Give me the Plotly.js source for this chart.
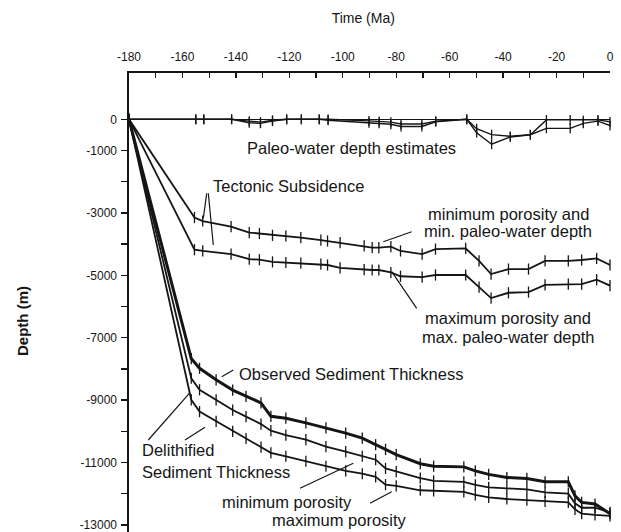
<!DOCTYPE html>
<html>
<head>
<meta charset="utf-8">
<script src="https://cdn.plot.ly/plotly-3.0.1.min.js"></script>
<style>
html,body{margin:0;padding:0;background:#fff;overflow:hidden;}
#chart{width:621px;height:532px;}
</style>
</head>
<body>
<div id="chart"></div>
<script>
// ---- Data (Time in Ma, Depth in m) ----
// Sediment thickness curves
const ageSed = [-180, -156.7, -153.6, -147.4, -141.2, -136.2, -130.6, -126.9, -121.3, -113.8, -106.3, -98.9, -92.7, -87.7, -84, -80, -71, -66, -54.7, -50.4, -45.4, -38.6, -31.1, -24.3, -15.6, -13.1, -10.6, -5.6, 0];
const observedSed = [0, -7670, -7980, -8350, -8680, -8880, -9090, -9520, -9580, -9730, -9890, -10060, -10220, -10430, -10580, -10750, -11040, -11120, -11140, -11270, -11380, -11480, -11510, -11620, -11620, -12070, -12280, -12330, -12640];
const delithMinPor = [0, -8300, -8670, -8990, -9320, -9530, -9770, -9980, -10120, -10270, -10490, -10650, -10800, -10910, -11190, -11290, -11500, -11590, -11620, -11720, -11800, -11830, -11860, -11960, -12000, -12310, -12450, -12450, -12600];
const delithMaxPor = [0, -8990, -9370, -9680, -10000, -10230, -10510, -10690, -10800, -10960, -11120, -11270, -11360, -11460, -11710, -11750, -11890, -11910, -11940, -12040, -12120, -12170, -12210, -12250, -12280, -12500, -12640, -12680, -12710];

// Tectonic subsidence curves
const ageTec = [-180, -155.5, -152.4, -141.8, -135, -131.2, -126.3, -121.3, -115.7, -108.2, -105.7, -101, -92, -89, -86.5, -82, -78.4, -70.3, -65.3, -54, -49, -44.5, -38, -30.5, -24.3, -15.6, -10.6, -5, 0];
const tecMinPor = [0, -3150, -3260, -3440, -3630, -3660, -3720, -3740, -3790, -3870, -3900, -3950, -4060, -4110, -4110, -4080, -4220, -4320, -4160, -4140, -4540, -4960, -4800, -4800, -4540, -4540, -4510, -4460, -4670];
const tecMaxPor = [0, -4180, -4220, -4320, -4480, -4500, -4570, -4590, -4610, -4640, -4670, -4760, -4820, -4830, -4830, -4910, -5030, -5060, -4990, -4990, -5380, -5730, -5560, -5540, -5310, -5280, -5280, -5140, -5330];

// Paleo-water depth estimates
const agePW = [-180, -155, -152, -141.6, -135, -130.8, -126.3, -121, -115.5, -108.8, -105.5, -90.2, -86.4, -82, -78.2, -70.4, -65.2, -53.6, -49.9, -44.3, -37.3, -29.8, -23.8, -14.9, -10, -4.5, 0];
const pwMin = [0, 0, 0, 0, -60, -90, -30, 0, 0, 0, 0, -50, -70, -90, -150, -150, -60, 0, -300, -490, -545, -495, -20, -20, -40, -20, -80];
const pwMax = [0, 0, 0, 0, -110, -130, -60, 0, 0, 0, -30, -110, -130, -160, -230, -230, -80, 0, -430, -800, -565, -495, -290, -290, -130, -60, -200];

// Axis ticks
const xTickVals = [-180, -170, -160, -150, -140, -130, -120, -110, -100, -90, -80, -70, -60, -50, -40, -30, -20, -10, 0];
const xTickText = ['-180', '', '-160', '', '-140', '', '-120', '', '-100', '', '-80', '', '-60', '', '-40', '', '-20', '', '0'];
const yTickVals = [0, -1000, -2000, -3000, -4000, -5000, -6000, -7000, -8000, -9000, -10000, -11000, -12000, -13000];
const yTickText = ['0', '-1000', '', '-3000', '', '-5000', '', '-7000', '', '-9000', '', '-11000', '', '-13000'];

// ---- Layout geometry (pixels) ----
const W = 621, H = 532;
const PL = 129, PR = 610, PT = 73, PB = 532;
const ZERO_PX = 119.3, PX_PER_M = 0.0312;
const yRange = [-(PB - ZERO_PX) / PX_PER_M, (ZERO_PX - PT) / PX_PER_M];
// helpers to place labels / leader lines at picture positions
const tx = px => -180 + (px - PL) / (PR - PL) * 180;
const dy = py => -(py - ZERO_PX) / PX_PER_M;

// ---- Plot ----
const INK = '#151515';
function curve(x, y, w, msize) {
  return {
    x: x, y: y, type: 'scatter', mode: 'lines+markers', cliponaxis: false,
    line: {color: INK, width: w},
    marker: {symbol: 'line-ns-open', size: msize, color: INK, line: {color: INK, width: 1.3}},
    hoverinfo: 'skip'
  };
}
const traces = [
  curve(agePW, pwMin, 1.4, 7),
  curve(agePW, pwMax, 1.4, 7),
  curve(ageTec, tecMinPor, 1.8, 8),
  curve(ageTec, tecMaxPor, 1.8, 8),
  curve(ageSed, delithMinPor, 1.8, 8),
  curve(ageSed, delithMaxPor, 1.8, 8),
  curve(ageSed, observedSed, 3, 8)
];

const AF = {size: 16.5, color: INK, family: 'Liberation Sans, Arial, sans-serif'};
function label(text, px, py, anchor) {
  return {text: text, x: tx(px), y: dy(py), xref: 'x', yref: 'y', showarrow: false,
          xanchor: anchor || 'left', yanchor: 'middle', font: AF};
}
const annotations = [
  label('Paleo-water depth estimates', 245, 148),
  label('Tectonic Subsidence', 211, 186),
  label('minimum porosity and', 508, 213.5, 'center'),
  label('min. paleo-water depth', 508, 231, 'center'),
  label('maximum porosity and', 508, 318, 'center'),
  label('max. paleo-water depth', 508, 337, 'center'),
  label('Observed Sediment Thickness', 237, 374),
  label('Delithified', 140, 450),
  label('Sediment Thickness', 140, 471.5),
  label('minimum porosity', 220, 501.5),
  label('maximum porosity', 270, 519.5),
  {text: '<b>Depth (m)</b>', textangle: -90, xref: 'paper', yref: 'paper',
   x: (22 - PL) / (PR - PL), y: 1 - (321 - PT) / (PB - PT), xanchor: 'center', yanchor: 'middle',
   showarrow: false, font: {size: 15, color: INK, family: 'Liberation Sans, Arial, sans-serif'}}
];

function lead(x0, y0, x1, y1) {
  return {type: 'line', xref: 'x', yref: 'y', x0: tx(x0), y0: dy(y0), x1: tx(x1), y1: dy(y1),
          line: {color: INK, width: 1.2}};
}
const shapes = [
  lead(206.7, 193.3, 203.3, 218.3),
  lead(208.3, 193.3, 213.3, 245),
  lead(411.7, 231.7, 383.3, 241.7),
  lead(391.7, 271.7, 416.7, 308.3),
  lead(221.7, 376.7, 233.3, 370),
  lead(148.3, 440, 189.3, 393.3),
  lead(185, 440, 205, 427.3),
  lead(300, 488.3, 353.3, 463.3),
  lead(370, 503.3, 391.7, 491.7)
];

const layout = {
  width: W, height: H,
  margin: {l: PL, r: W - PR, t: PT, b: H - PB, pad: 0},
  paper_bgcolor: '#ffffff', plot_bgcolor: '#ffffff',
  font: {family: 'Liberation Sans, Arial, sans-serif', color: INK},
  showlegend: false,
  title: {text: 'Time (Ma)', font: {size: 14, color: INK}, xref: 'container', yref: 'container',
          x: 0.585, xanchor: 'center', y: 1 - 18 / H, yanchor: 'middle'},
  xaxis: {side: 'top', range: [-180, 0], tickmode: 'array', tickvals: xTickVals, ticktext: xTickText,
          ticks: 'inside', ticklen: 5, tickwidth: 1.3, tickcolor: INK,
          showline: true, linewidth: 1.6, linecolor: INK, showgrid: false, zeroline: false,
          tickfont: {size: 12, color: INK}, ticklabelstandoff: 6, ticklabeloverflow: 'allow',
          fixedrange: true},
  yaxis: {range: yRange, tickmode: 'array', tickvals: yTickVals, ticktext: yTickText,
          ticks: 'outside', ticklen: 6, tickwidth: 1.3, tickcolor: INK,
          showline: true, linewidth: 1.6, linecolor: INK, showgrid: false,
          zeroline: true, zerolinewidth: 1.5, zerolinecolor: INK,
          tickfont: {size: 12, color: INK}, ticklabelstandoff: 2, ticklabeloverflow: 'allow',
          fixedrange: true},
  annotations: annotations,
  shapes: shapes
};

Plotly.newPlot('chart', traces, layout, {staticPlot: true, displayModeBar: false});
</script>
</body>
</html>
